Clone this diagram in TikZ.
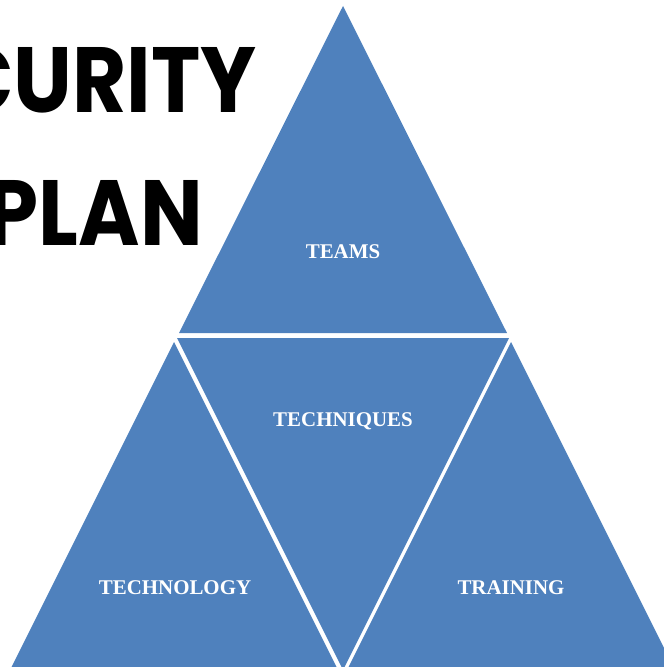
\documentclass[tikz,border=0pt]{standalone}
\usepackage{fontspec}
\setmainfont{Liberation Serif}
\newfontfamily\titlefont{Poppins}
\definecolor{triblue}{HTML}{4F81BD}
\tikzset{
  piece/.style={fill=triblue},
  lbl/.style={text=white,anchor=base,font=\fontsize{21}{21}\selectfont\bfseries},
  headline/.style={anchor=base east,inner sep=0pt,xscale=0.9,font=\titlefont\bfseries\fontsize{93}{93}\selectfont}
}
\begin{document}
\begin{tikzpicture}[x=1bp,y=-1bp]
        \useasboundingbox (0,0) rectangle (664,667);
        %title
        \node[headline] (curity) at (257,113) {CURITY};
        \node[headline] (plan) at (203,245) {PLAN};

        %triangles
        \fill[piece] (343,6) -- (507,333) -- (179,333) -- cycle;
        \fill[piece] (177,338) -- (509,338) -- (343,670) -- cycle;
        \fill[piece] (174,342) -- (338,670) -- (10,670) -- cycle;
        \fill[piece] (511,342) -- (675,670) -- (347,670) -- cycle;

        %labels
        \node[lbl] (teams) at (343,258) {TEAMS};
        \node[lbl] (techniques) at (343,426) {TECHNIQUES};
        \node[lbl] (technology) at (175,594) {TECHNOLOGY};
        \node[lbl] (training) at (511,594) {TRAINING};
\end{tikzpicture}
\end{document}
